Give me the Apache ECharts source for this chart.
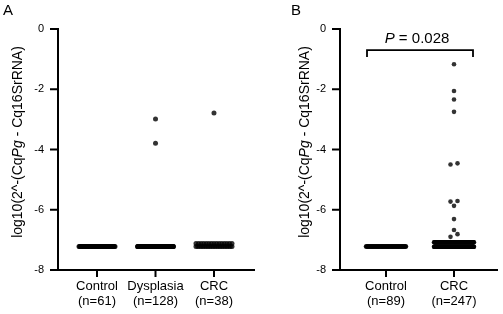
<!DOCTYPE html>
<html>
<head>
<meta charset="utf-8">
<script src="https://cdn.jsdelivr.net/npm/echarts@6/dist/echarts.min.js"></script>
<style>
  html, body { margin: 0; padding: 0; background: #fff; }
  #chart { width: 503px; height: 314px; }
</style>
</head>
<body>
<div id="chart"></div>
<script>
// categories
const catsA = ['Control\n(n=61)', 'Dysplasia\n(n=128)', 'CRC\n(n=38)'];
const catsB = ['Control\n(n=89)', 'CRC\n(n=247)'];
const yTicks = [-8, -6, -4, -2, 0];

// rows of identical values at the detection floor: [group, value, count]
const floorA = [[1, -7.22, 61], [2, -7.22, 126], [3, -7.12, 15], [3, -7.22, 22]];
const floorB = [[1, -7.22, 89], [2, -7.08, 100], [2, -7.23, 134]];

// single points above the floor: [group, value]
const outA = [[2, -2.99], [2, -3.79], [3, -2.79]];
const outB = [
  [2, -1.17], [2, -2.06], [2, -2.34], [2, -2.75],
  [2, -4.46], [2, -4.50], [2, -5.71], [2, -5.73], [2, -5.87],
  [2, -6.31], [2, -6.67], [2, -6.81], [2, -6.90]
];

// p value bracket for panel B
const pTextB = '{i|P} = 0.028';
const yName = 'log10(2^-(Cq{i|Pg} - Cq16SrRNA)';

const FONT = 'Arial';
const gridA = { left: 58, top: 29, width: 197, height: 241 };
const gridB = { left: 340, top: 29, width: 158, height: 241 };
const xRangeA = [0.333, 3.701];
const xRangeB = [0.3235, 2.647];
const pxPerYUnit = gridA.height / 8;

// spread tied points sideways (like a scatter dot plot)
function layout(floor, outs, pxPerUnit, halfPx) {
  let pts = [];
  floor.forEach(r => {
    let hw = halfPx / pxPerUnit;
    for (let i = 0; i < r[2]; i++) {
      let t = r[2] > 1 ? i / (r[2] - 1) : 0.5;
      pts.push([r[0] - hw + 2 * hw * t, r[1]]);
    }
  });
  let sorted = outs.slice().sort((a, b) => b[1] - a[1]);
  let rows = [];
  sorted.forEach(p => {
    let last = rows[rows.length - 1];
    if (last && last[0][0] === p[0] && (last[0][1] - p[1]) * pxPerYUnit < 3.5) last.push(p);
    else rows.push([p]);
  });
  rows.forEach(row => {
    row.sort((a, b) => a[1] - b[1]);
    row.forEach((p, i) => {
      let off = (i - (row.length - 1) / 2) * 7 / pxPerUnit;
      pts.push([p[0] + off, p[1]]);
    });
  });
  return pts;
}

const ppuA = gridA.width / (xRangeA[1] - xRangeA[0]);
const ppuB = gridB.width / (xRangeB[1] - xRangeB[0]);
const ptsA = layout(floorA, outA, ppuA, 18);
const ptsB = layout(floorB, outB, ppuB, 20);

function xAxis(idx, range, cats) {
  return {
    type: 'value', gridIndex: idx, min: range[0], max: range[1],
    splitLine: { show: false },
    axisLine: { show: false, onZero: false },
    axisTick: { show: false },
    axisLabel: {
      customValues: cats.map((c, i) => i + 1),
      formatter: v => cats[Math.round(v) - 1] || '',
      color: '#000', fontFamily: FONT, fontSize: 13, lineHeight: 15, margin: 9
    }
  };
}

function yAxis(idx, gap) {
  return {
    type: 'value', gridIndex: idx, min: -8, max: 0, interval: 2,
    splitLine: { show: false },
    axisLine: { show: false },
    axisTick: { show: false },
    axisLabel: { color: '#000', fontFamily: FONT, fontSize: 11, margin: 14 },
    name: yName, nameLocation: 'middle', nameGap: gap,
    nameTextStyle: {
      color: '#000', fontFamily: FONT, fontSize: 14, padding: [0, 0, 0, 15],
      rich: { i: { fontStyle: 'italic', fontSize: 14, fontFamily: FONT, color: '#000' } }
    }
  };
}

// axis lines and ticks, placed through the axes' own scales
function frame(idx, range, cats) {
  return {
    type: 'custom', xAxisIndex: idx, yAxisIndex: idx, data: [[0]], silent: true,
    renderItem: function (params, api) {
      let st = { stroke: '#000', lineWidth: 2 };
      let o = api.coord([range[0], -8]);
      let top = api.coord([range[0], 0]);
      let end = api.coord([range[1], -8]);
      let kids = [
        { type: 'line', shape: { x1: o[0], y1: o[1], x2: top[0], y2: top[1] - 1 }, style: st },
        { type: 'line', shape: { x1: o[0] - 1, y1: o[1], x2: end[0], y2: end[1] }, style: st }
      ];
      yTicks.forEach(v => {
        let p = api.coord([range[0], v]);
        kids.push({ type: 'line', shape: { x1: p[0] - 8, y1: p[1], x2: p[0], y2: p[1] }, style: st });
      });
      cats.forEach((c, i) => {
        let p = api.coord([i + 1, -8]);
        kids.push({ type: 'line', shape: { x1: p[0], y1: p[1], x2: p[0], y2: p[1] + 7 }, style: st });
      });
      return { type: 'group', children: kids };
    }
  };
}

const chart = echarts.init(document.getElementById('chart'));
chart.setOption({
  animation: false,
  title: [
    { text: 'A', left: 3, top: 3, padding: 0, textStyle: { fontFamily: FONT, fontSize: 15, fontWeight: 'normal', color: '#000' } },
    { text: 'B', left: 291, top: 3, padding: 0, textStyle: { fontFamily: FONT, fontSize: 15, fontWeight: 'normal', color: '#000' } }
  ],
  grid: [gridA, gridB],
  xAxis: [xAxis(0, xRangeA, catsA), xAxis(1, xRangeB, catsB)],
  yAxis: [yAxis(0, 33), yAxis(1, 27)],
  series: [
    frame(0, xRangeA, catsA),
    frame(1, xRangeB, catsB),
    { type: 'scatter', xAxisIndex: 0, yAxisIndex: 0, data: ptsA, symbolSize: 5, itemStyle: { color: '#000' } },
    { type: 'scatter', xAxisIndex: 1, yAxisIndex: 1, data: ptsB, symbolSize: 4.6, itemStyle: { color: '#000' } },
    {
      type: 'custom', xAxisIndex: 1, yAxisIndex: 1, data: [[1, 2]],
      renderItem: function (params, api) {
        let off = 19 / ppuB;
        let l = api.coord([1 - off, -0.70]), r = api.coord([2 + off, -0.70]);
        let lb = api.coord([1 - off, -0.93]), rb = api.coord([2 + off, -0.93]);
        let mid = api.coord([1.5, -0.33]);
        return {
          type: 'group',
          children: [
            { type: 'polyline', shape: { points: [lb, l, r, rb] },
              style: { stroke: '#000', lineWidth: 1.8, fill: null } },
            { type: 'text', x: mid[0] - 3, y: mid[1],
              style: {
                text: pTextB, align: 'center', verticalAlign: 'middle',
                font: '15px ' + FONT, fill: '#000',
                rich: { i: { fontStyle: 'italic', fontSize: 15, fontFamily: FONT } }
              } }
          ]
        };
      }
    }
  ]
});
</script>
</body>
</html>
